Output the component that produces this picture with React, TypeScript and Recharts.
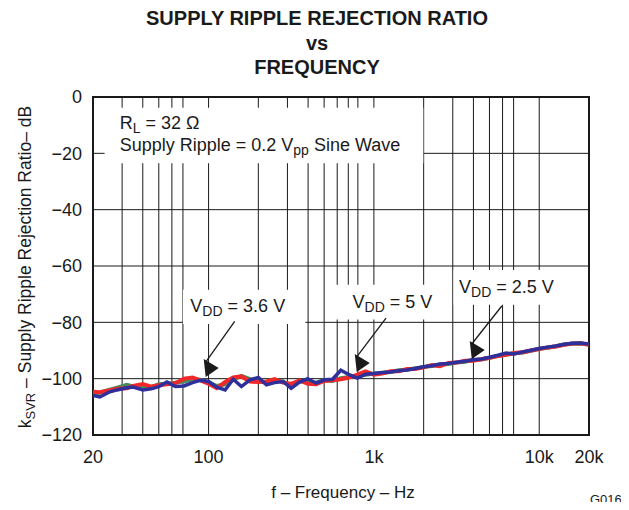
import React from 'react';
import {
  LineChart, Line, XAxis, YAxis, CartesianGrid, ReferenceArea, ReferenceLine, ReferenceDot,
} from 'recharts';

// frequency points, Hz
const FREQ = [
  20, 22, 25, 28, 32, 35, 40, 45, 50, 56, 63, 71, 80, 89,
  100, 112, 126, 141, 158, 178, 200, 224, 251, 282, 316, 355, 398, 447, 501, 562, 631, 708, 794, 891,
  1000, 1122, 1259, 1413, 1585, 1778, 1995, 2239, 2512, 2818, 3162, 3548, 3981, 4467, 5012, 5623, 6310, 7079, 7943, 8913,
  10000, 11220, 12589, 14125, 15849, 17783, 20000,
];

// kSVR in dB for each supply
const GREEN = [
  -105.2, -105.0, -104.0, -103.2, -102.2, -102.8, -102.6, -103.0, -102.0, -101.8, -101.4, -101.0, -100.2, -100.4,
  -101.2, -102.6, -102.0, -100.4, -99.0, -100.2, -100.8, -101.4, -100.6, -101.0, -102.4, -101.0, -101.0, -101.4, -100.6, -100.8, -99.8, -99.4, -99.0, -98.6,
  -98.2, -98.0, -97.6, -97.0, -96.8, -96.3, -95.9, -95.5, -95.0, -94.8, -94.3, -94.0, -93.4, -93.2, -92.6, -91.9, -91.4, -91.0, -90.7, -90.1,
  -89.4, -89.0, -88.5, -87.9, -87.6, -87.5, -87.9,
];
const RED = [
  -104.6, -104.8, -104.2, -103.6, -103.4, -102.6, -101.9, -102.8, -102.3, -102.0, -101.6, -100.0, -99.6, -100.6,
  -101.8, -103.4, -101.2, -99.6, -99.2, -101.0, -101.2, -101.0, -100.2, -101.4, -101.8, -100.6, -101.8, -102.0, -100.8, -100.6, -100.2, -99.6, -98.6, -97.4,
  -98.6, -98.2, -97.4, -97.4, -96.6, -96.6, -96.0, -95.2, -95.6, -94.4, -94.3, -93.6, -93.6, -93.1, -92.6, -92.0, -91.5, -90.9, -90.6, -90.0,
  -89.5, -88.9, -88.6, -88.0, -87.5, -87.4, -88.0,
];
const BLUE = [
  -106.0, -106.5, -104.8, -104.0, -103.2, -103.0, -104.0, -103.6, -102.8, -101.2, -102.8, -102.6, -101.4, -100.6,
  -101.0, -103.0, -104.0, -100.2, -102.8, -100.4, -99.6, -102.2, -101.4, -101.0, -103.4, -101.2, -100.0, -101.6, -100.4, -100.2, -97.0, -98.6, -99.8, -98.4,
  -98.2, -97.8, -97.6, -97.2, -96.9, -96.4, -95.8, -95.4, -94.8, -94.6, -94.2, -93.8, -93.3, -93.0, -92.4, -91.7, -90.9, -91.2, -90.5, -89.9,
  -89.3, -88.8, -88.4, -87.8, -87.4, -87.3, -87.7,
];

const X_TICKS = [20, 100, 1000, 10000, 20000];
const X_TICK_LABELS = ['20', '100', '1k', '10k', '20k'];
const Y_TICKS = [-120, -100, -80, -60, -40, -20, 0];
const GRID_FREQ = [
  30, 40, 50, 60, 70, 80, 90, 100,
  200, 300, 400, 500, 600, 700, 800, 900, 1000,
  2000, 3000, 4000, 5000, 6000, 7000, 8000, 9000, 10000,
];
const GRID_DB = [-100, -80, -60, -40, -20];

const FONT = "Arial, 'Liberation Sans', Helvetica, sans-serif";
const INK = '#1a1a1a';

const data = FREQ.map((f, i) => ({ f, green: GREEN[i], red: RED[i], blue: BLUE[i] }));

// annotation text with a subscript part
const SubText = ({ cx, cy, main, sub, rest }: any) => (
  <text x={cx} y={cy} fill={INK} fontSize={18} fontFamily={FONT}>
    {main}
    <tspan dy={4} fontSize={14}>{sub}</tspan>
    <tspan dy={-4}>{rest}</tspan>
  </text>
);

const ConditionsText = ({ cx, cy }: any) => (
  <g>
    <SubText cx={cx} cy={cy} main="R" sub="L" rest=" = 32 Ω" />
    <SubText cx={cx} cy={cy + 21.5} main="Supply Ripple = 0.2 V" sub="pp" rest=" Sine Wave" />
  </g>
);

const ArrowHead = ({ cx, cy }: any) => (
  <polygon points={`${cx - 2},${cy - 3} ${cx + 13},${cy + 6} ${cx},${cy + 15}`} fill={INK} />
);

const labels = [
  { x: 77.6, y: -76.2, sub: 'DD', rest: ' = 3.6 V' },
  { x: 743, y: -75.0, sub: 'DD', rest: ' = 5 V' },
  { x: 3274, y: -69.7, sub: 'DD', rest: ' = 2.5 V' },
];

const boxes = [
  { x1: 23.5, x2: 1990, y1: -23.5, y2: -3.8 },
  { x1: 70, x2: 385, y1: -80.6, y2: -68.4 },
  { x1: 560, x2: 2600, y1: -79.0, y2: -66.7 },
  { x1: 3030, x2: 13700, y1: -73.8, y2: -61.4 },
];

const arrows = [
  { from: { x: 143.9, y: -79.7 }, to: { x: 96.1, y: -94.1 } },
  { from: { x: 1184, y: -78.5 }, to: { x: 787.6, y: -92.3 } },
  { from: { x: 5938, y: -74.2 }, to: { x: 3908, y: -87.7 } },
];

export default function App() {
  return (
    <div style={{ position: 'relative', width: 629, height: 510, margin: -8, background: '#fff' }}>
      <LineChart
        width={629}
        height={510}
        data={data}
        margin={{ top: 97, right: 40, bottom: 35, left: 0 }}
      >
        <CartesianGrid
          stroke={INK}
          strokeWidth={1}
          horizontalValues={GRID_DB}
          verticalValues={GRID_FREQ}
        />
        <XAxis
          dataKey="f"
          type="number"
          scale="log"
          domain={[20, 20000]}
          allowDataOverflow
          ticks={X_TICKS}
          tickFormatter={(v: number) => X_TICK_LABELS[X_TICKS.indexOf(v)]}
          axisLine={false}
          tickLine={false}
          tickMargin={9}
          height={40}
          tick={{ fill: INK, fontSize: 18, fontFamily: FONT }}
        />
        <YAxis
          type="number"
          domain={[-120, 0]}
          ticks={Y_TICKS}
          tickFormatter={(v: number) => String(v).replace('-', '−')}
          axisLine={false}
          tickLine={false}
          tickMargin={5}
          width={93}
          tick={{ fill: INK, fontSize: 18, fontFamily: FONT }}
        />
        {boxes.map((b, i) => (
          <ReferenceArea key={`box-${i}`} x1={b.x1} x2={b.x2} y1={b.y1} y2={b.y2} fill="#fff" fillOpacity={1} stroke="none" />
        ))}
        <ReferenceArea x1={20} x2={20000} y1={-120} y2={0} fill="none" stroke={INK} strokeWidth={2} />
        <Line dataKey="green" stroke="#4a8a5c" strokeWidth={4} dot={false} isAnimationActive={false} />
        <Line dataKey="red" stroke="#f0282a" strokeWidth={4} dot={false} isAnimationActive={false} />
        <Line dataKey="blue" stroke="#2f2f9c" strokeWidth={3.5} dot={false} isAnimationActive={false} />
        {arrows.map((a, i) => (
          <ReferenceLine key={`arr-${i}`} segment={[a.from, a.to]} stroke={INK} strokeWidth={1.3} />
        ))}
        {arrows.map((a, i) => (
          <ReferenceDot key={`head-${i}`} x={a.to.x} y={a.to.y} shape={<ArrowHead />} />
        ))}
        {labels.map((l, i) => (
          <ReferenceDot key={`lab-${i}`} x={l.x} y={l.y} shape={<SubText main="V" sub={l.sub} rest={l.rest} />} />
        ))}
        <ReferenceDot x={29} y={-11.4} shape={<ConditionsText />} />
      </LineChart>
      <svg width={629} height={510} style={{ position: 'absolute', left: 0, top: 0, pointerEvents: 'none' }}>
        <g fontFamily={FONT} fill={INK} fontWeight="bold" fontSize={20} textAnchor="middle">
          <text x={317} y={25}>SUPPLY RIPPLE REJECTION RATIO</text>
          <text x={317} y={50}>vs</text>
          <text x={317} y={74}>FREQUENCY</text>
        </g>
        <text x={343} y={498} textAnchor="middle" fontFamily={FONT} fontSize={17} fill={INK}>
          f – Frequency – Hz
        </text>
        <text
          transform="translate(31, 267) rotate(-90)"
          textAnchor="middle"
          fontFamily={FONT}
          fontSize={17.5}
          fill={INK}
        >
          k<tspan dy={4} fontSize={13}>SVR</tspan><tspan dy={-4}> – Supply Ripple Rejection Ratio– dB</tspan>
        </text>
        <text x={590} y={504} fontFamily={FONT} fontSize={13} fill={INK}>G016</text>
      </svg>
    </div>
  );
}
